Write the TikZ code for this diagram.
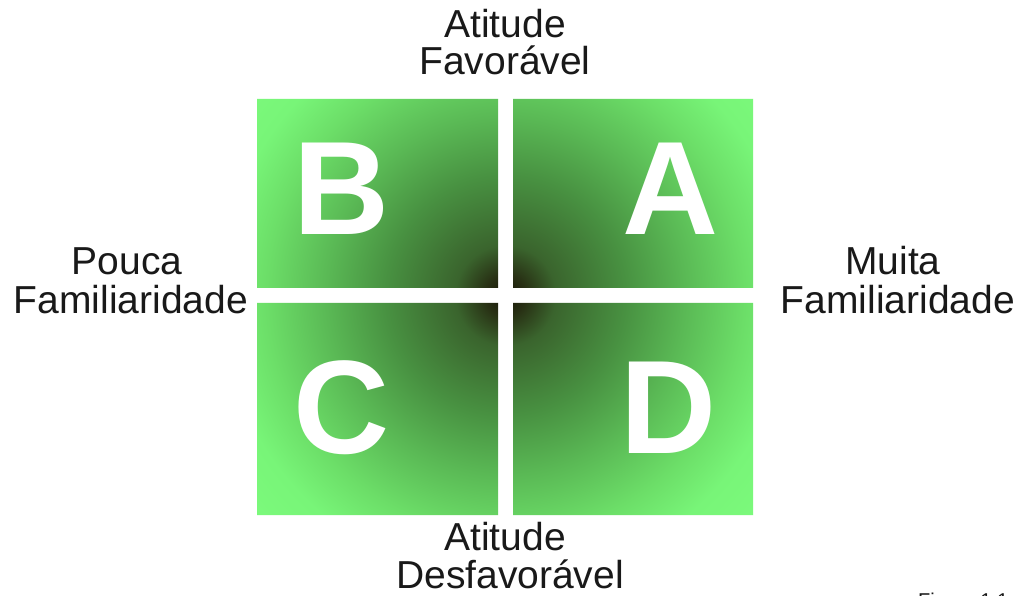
\documentclass[tikz,border=0pt]{standalone}
\usepackage{fontspec}
\setmainfont{Liberation Sans}
\definecolor{qc0}{RGB}{25,22,8}
\definecolor{qc1}{RGB}{40,48,20}
\definecolor{qc2}{RGB}{58,100,45}
\definecolor{qc3}{RGB}{72,145,65}
\definecolor{qc4}{RGB}{90,185,85}
\definecolor{qc5}{RGB}{108,222,104}
\definecolor{qc6}{RGB}{120,245,120}
\definecolor{qc7}{RGB}{124,250,124}
\definecolor{labelgray}{RGB}{25,25,25}
\pgfdeclareradialshading{quadshade}{\pgfpoint{0bp}{0bp}}{color(0bp)=(qc0); color(1.5bp)=(qc1); color(3.7bp)=(qc2); color(8.8bp)=(qc3); color(13.2bp)=(qc4); color(17.6bp)=(qc5); color(21bp)=(qc6); color(25bp)=(qc7); color(50bp)=(qc7)}
\tikzset{
  axislabel/.style={font=\fontsize{39}{39}\selectfont, text=labelgray, inner sep=0pt, anchor=base, align=center},
  quadletter/.style={font=\fontsize{133}{133}\selectfont\bfseries, text=white, inner sep=0pt, anchor=base},
  figlabel/.style={font=\fontsize{20}{20}\selectfont, text=labelgray, inner sep=0pt, anchor=base west}
}
\begin{document}
\begin{tikzpicture}[x=1pt,y=-1pt]
\useasboundingbox (0,0) rectangle (1029,596);
\fill[white] (0,0) rectangle (1029,596);
\coordinate (ctr) at (505.5,295.5);
\begin{scope}
  \clip (257,99) rectangle (498,288)
        (513,99) rectangle (753,288)
        (257,303) rectangle (498,515)
        (513,303) rectangle (753,515);
  \shade[shading=quadshade] (ctr) circle (340);
\end{scope}
\node[quadletter] (B) at (342,235) {B};
\node[quadletter] (A) at (671,235) {A};
\node[quadletter] (C) at (342,453) {C};
\node[quadletter] (D) at (669,453) {D};
\node[axislabel] (top1) at (505,38) {Atitude};
\node[axislabel] (top2) at (505,75) {Favorável};
\node[axislabel] (left1) at (127,275) {Pouca};
\node[axislabel] (left2) at (131,314) {Familiaridade};
\node[axislabel] (right1) at (893,275) {Muita};
\node[axislabel] (right2) at (898,314) {Familiaridade};
\node[axislabel] (bot1) at (505,550) {Atitude};
\node[axislabel] (bot2) at (510,588) {Desfavorável};
\begin{scope}
  \clip (0,0) rectangle (1029,596);
  \node[figlabel] (fig) at (918,607) {Figura 1.1};
\end{scope}
\end{tikzpicture}
\end{document}
